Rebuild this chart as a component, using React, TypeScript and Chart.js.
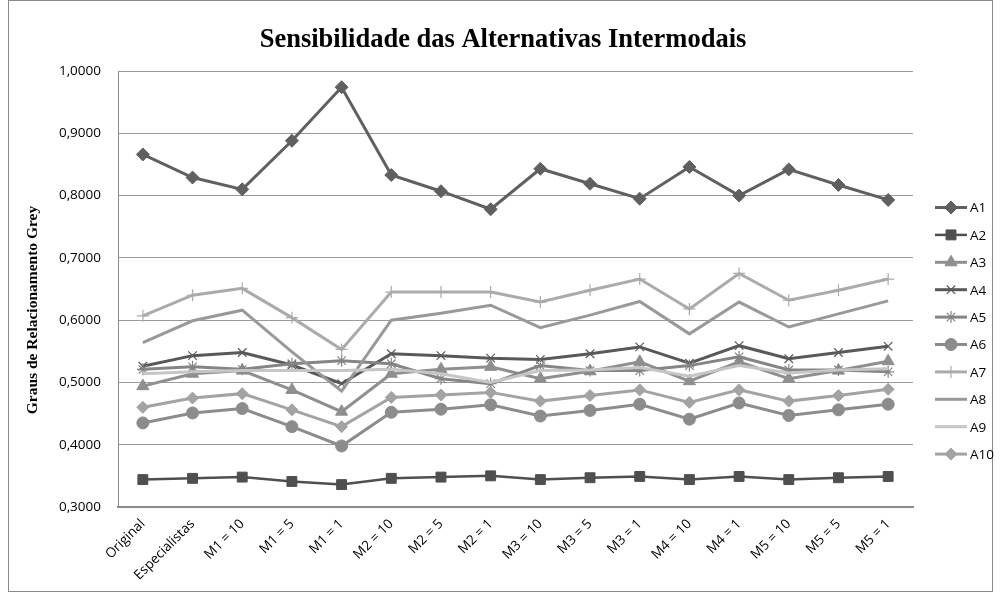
import React, { useEffect, useRef } from "react";
import { Chart, registerables } from "chart.js";
import { drawPoint } from "chart.js/helpers";

Chart.register(...registerables);

const categories = ["Original", "Especialistas", "M1 = 10", "M1 = 5", "M1 = 1", "M2 = 10", "M2 = 5", "M2 = 1", "M3 = 10", "M3 = 5", "M3 = 1", "M4 = 10", "M4 = 1", "M5 = 10", "M5 = 5", "M5 = 1"];

const A1 = [0.866, 0.829, 0.810, 0.888, 0.974, 0.833, 0.807, 0.778, 0.843, 0.819, 0.795, 0.846, 0.800, 0.842, 0.817, 0.793];
const A2 = [0.344, 0.346, 0.348, 0.341, 0.336, 0.346, 0.348, 0.350, 0.344, 0.347, 0.349, 0.344, 0.349, 0.344, 0.347, 0.349];
const A3 = [0.494, 0.514, 0.519, 0.488, 0.453, 0.514, 0.521, 0.525, 0.506, 0.518, 0.533, 0.502, 0.533, 0.506, 0.519, 0.534];
const A4 = [0.526, 0.543, 0.548, 0.528, 0.498, 0.546, 0.543, 0.539, 0.537, 0.546, 0.557, 0.531, 0.559, 0.538, 0.548, 0.558];
const A5 = [0.521, 0.525, 0.521, 0.530, 0.535, 0.530, 0.506, 0.498, 0.527, 0.519, 0.519, 0.527, 0.541, 0.520, 0.520, 0.517];
const A6 = [0.435, 0.451, 0.458, 0.429, 0.398, 0.452, 0.457, 0.464, 0.446, 0.455, 0.465, 0.441, 0.467, 0.447, 0.456, 0.465];
const A7 = [0.607, 0.640, 0.651, 0.604, 0.553, 0.645, 0.645, 0.645, 0.629, 0.648, 0.666, 0.618, 0.675, 0.632, 0.648, 0.666];
const A8 = [0.564, 0.599, 0.616, 0.549, 0.486, 0.600, 0.611, 0.624, 0.588, 0.608, 0.630, 0.578, 0.629, 0.589, 0.610, 0.631];
const A9 = [0.514, 0.517, 0.519, 0.519, 0.519, 0.521, 0.514, 0.500, 0.519, 0.520, 0.524, 0.510, 0.527, 0.515, 0.520, 0.522];
const A10 = [0.460, 0.475, 0.482, 0.456, 0.429, 0.476, 0.480, 0.484, 0.470, 0.479, 0.488, 0.468, 0.488, 0.470, 0.479, 0.489];

const seriesNames = ["A1", "A2", "A3", "A4", "A5", "A6", "A7", "A8", "A9", "A10"];
const seriesValues = [A1, A2, A3, A4, A5, A6, A7, A8, A9, A10];
const seriesColors = ["#606060", "#4f4f4f", "#8f8f8f", "#595959", "#858585", "#8c8c8c", "#ababab", "#999999", "#c6c6c6", "#a3a3a3"];
const seriesMarkers: any[] = ["rectRot", "rect", "triangle", "crossRot", "star", "circle", "cross", false, false, "rectRot"];
const markerRadius = [6.5, 7, 7, 6, 6, 6, 6, 0, 0, 6];
const lineWidths = [3, 2.5, 3, 3, 3, 3, 3, 3, 3, 3];

const yTitle = "Graus de Relacionamento Grey";
const chartTitle = "Sensibilidade das Alternativas Intermodais";

const TICK_FONT = "'Open Sans', 'Noto Sans', sans-serif";
const SERIF = "'Liberation Serif', 'DejaVu Serif', serif";

const decorPlugin = {
  id: "decor",
  afterDraw(chart: any) {
    const ctx = chart.ctx;
    ctx.save();
    // outer border
    ctx.strokeStyle = "#8a8a8a";
    ctx.lineWidth = 1;
    ctx.strokeRect(8.5, 0.5, 984, 591);
    // title
    ctx.fillStyle = "#000";
    ctx.font = `bold 26.5px ${SERIF}`;
    ctx.textAlign = "center";
    ctx.textBaseline = "middle";
    ctx.fillText(chartTitle, 503, 40);
    // y title
    ctx.save();
    ctx.translate(33, 310);
    ctx.rotate(-Math.PI / 2);
    ctx.font = `bold 15.5px ${SERIF}`;
    ctx.fillText(yTitle, 0, 0);
    ctx.restore();
    // legend
    const x0 = 935;
    const x1 = 967;
    const startY = 207.5;
    const step = 27.4;
    chart.data.datasets.forEach((ds: any, i: number) => {
      const y = startY + i * step;
      ctx.strokeStyle = ds.borderColor;
      ctx.lineWidth = ds.borderWidth;
      ctx.beginPath();
      ctx.moveTo(x0, y);
      ctx.lineTo(x1, y);
      ctx.stroke();
      if (ds.pointStyle) {
        ctx.fillStyle = ds.pointBackgroundColor;
        ctx.strokeStyle = ds.pointBorderColor;
        ctx.lineWidth = ds.pointBorderWidth;
        drawPoint(ctx, { pointStyle: ds.pointStyle, rotation: 0, radius: ds.pointRadius, borderWidth: ds.pointBorderWidth }, (x0 + x1) / 2, y);
      }
      ctx.fillStyle = "#000";
      ctx.font = `13.5px ${TICK_FONT}`;
      ctx.textAlign = "left";
      ctx.textBaseline = "middle";
      ctx.fillText(ds.label, 970, y + 1);
    });
    ctx.restore();
  },
};

export default function App() {
  const ref = useRef<HTMLCanvasElement>(null);
  useEffect(() => {
    if (!ref.current) return;
    const datasets = seriesNames.map((name, i) => {
      const isLineMarker = ["crossRot", "star", "cross"].includes(seriesMarkers[i]);
      return {
        label: name,
        data: seriesValues[i],
        borderColor: seriesColors[i],
        backgroundColor: seriesColors[i],
        borderWidth: lineWidths[i],
        pointStyle: seriesMarkers[i],
        pointRadius: markerRadius[i],
        pointBackgroundColor: seriesColors[i],
        pointBorderColor: seriesColors[i],
        pointBorderWidth: isLineMarker ? 1.2 : 1,
        pointHoverRadius: markerRadius[i],
        tension: 0,
        fill: false,
        order: 10 - i,
      };
    });
    const chart = new Chart(ref.current, {
      type: "line",
      data: { labels: categories, datasets },
      options: {
        responsive: false,
        animation: false,
        devicePixelRatio: 1,
        layout: { padding: { top: 71, right: 88, bottom: 0, left: 0 } },
        plugins: {
          legend: { display: false },
          title: { display: false },
          tooltip: { enabled: false },
        },
        scales: {
          x: {
            offset: true,
            grid: { display: false, drawTicks: false },
            border: { display: true, color: "#8a8a8a", width: 2 },
            ticks: {
              autoSkip: false,
              maxRotation: 45,
              minRotation: 45,
              padding: 9,
              color: "#000",
              font: { family: TICK_FONT, size: 13.5 },
            },
            afterFit(scale: any) {
              scale.height = 94;
            },
          },
          y: {
            min: 0.3,
            max: 1.0,
            grid: { color: "#9a9a9a", lineWidth: 1, drawTicks: false },
            border: { display: true, color: "#8a8a8a", width: 1 },
            ticks: {
              stepSize: 0.1,
              padding: 17,
              color: "#000",
              font: { family: TICK_FONT, size: 13.5 },
              callback: (v: any) => Number(v).toFixed(4).replace(".", ","),
            },
            afterFit(scale: any) {
              scale.width = 118;
            },
          },
        },
      },
      plugins: [decorPlugin],
    });
    return () => chart.destroy();
  }, []);
  return (
    <div style={{ position: "absolute", left: 0, top: 0, width: 1001, height: 601, background: "#fff" }}>
      <canvas ref={ref} width={1001} height={601} style={{ display: "block" }} />
    </div>
  );
}
